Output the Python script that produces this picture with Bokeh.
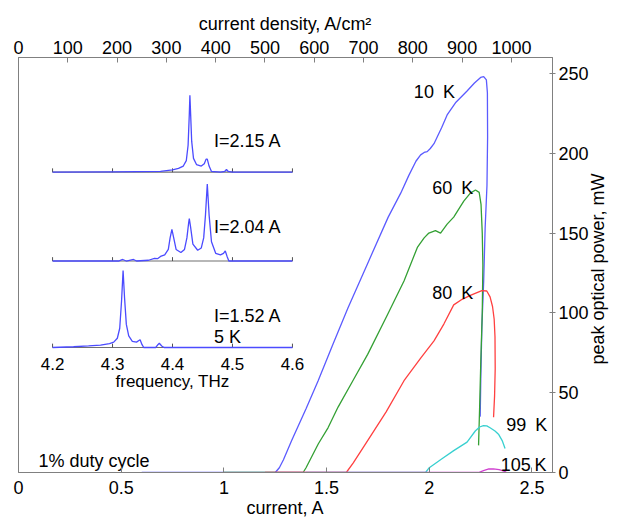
import math
from bokeh.plotting import figure
from bokeh.models import Range1d, LinearAxis, FixedTicker
from bokeh.core.properties import value
from bokeh.embed import file_html
from bokeh.resources import INLINE

# ---------------- data ----------------
cur_10K = [0.60, 1.25, 1.27, 1.29, 1.33, 1.40, 1.459, 1.53, 1.604, 1.70, 1.80, 1.861, 1.90, 1.935,
           1.958, 1.975, 1.99, 2.005, 2.023, 2.06, 2.087, 2.13, 2.184, 2.22, 2.25, 2.265, 2.278,
           2.283, 2.284, 2.281, 2.272, 2.265, 2.256, 2.251, 2.248]
pow_10K = [0, 0, 3, 8, 20, 40, 57.5, 80, 103, 131, 160, 175, 186, 195,
           199, 200.5, 201, 203, 206, 216, 224, 232, 239, 244, 247.5, 248, 246,
           238, 210, 180, 153, 120, 91, 60, 35]

cur_60K = [1.00, 1.386, 1.40, 1.42, 1.46, 1.507, 1.556, 1.628, 1.70, 1.797, 1.877, 1.942, 1.975,
           1.998, 2.03, 2.055, 2.087, 2.119, 2.168, 2.20, 2.225, 2.243, 2.252, 2.258, 2.261,
           2.258, 2.251, 2.245, 2.24]
pow_60K = [0, 0, 3, 8, 18, 28, 41, 57.5, 74, 99, 120, 141, 147,
           150, 151.5, 150, 155.6, 160, 170, 175, 177, 175.5, 168, 150, 130,
           100, 70, 40, 17]

cur_80K = [1.20, 1.596, 1.63, 1.70, 1.79, 1.877, 1.96, 2.023, 2.071, 2.119, 2.16, 2.20, 2.256,
           2.28, 2.296, 2.308, 2.316, 2.32, 2.321, 2.318, 2.313]
pow_80K = [0, 0, 6, 20, 38, 57.5, 72, 82.5, 93, 105, 108.5, 111, 114,
           113.7, 110, 104, 96, 85, 65, 48, 34.6]

cur_99K = [1.40, 1.982, 2.00, 2.06, 2.119, 2.184, 2.224, 2.245, 2.264, 2.28, 2.296, 2.32, 2.337,
           2.355, 2.369]
pow_99K = [0, 0, 3, 8.5, 13.7, 19, 26, 28.5, 29.4, 29.2, 28, 26, 24, 20, 15]

cur_105K = [1.25, 2.24, 2.264, 2.29, 2.312, 2.34, 2.36, 2.375]
pow_105K = [0, 0, 1.2, 2.2, 2.3, 1.8, 1.0, 0.3]

curve_labels = ["10\u2002K", "60\u2002K", "80\u2002K", "99\u2002K", "105\u2009K"]

x_ticks = [0, 0.5, 1, 1.5, 2, 2.5]
x_tick_labels = ["0", "0.5", "1", "1.5", "2", "2.5"]
density_ticks = [0, 100, 200, 300, 400, 500, 600, 700, 800, 900, 1000]
power_ticks = [0, 50, 100, 150, 200, 250]
device_area_cm2 = 0.0024

# inset spectra (frequency THz, normalised intensity)
freq_ticks = [4.2, 4.3, 4.4, 4.5, 4.6]
freq_tick_labels = ["4.2", "4.3", "4.4", "4.5", "4.6"]

f_215 = [4.20, 4.30, 4.38, 4.40, 4.41, 4.418, 4.423, 4.426, 4.428, 4.429, 4.430, 4.432, 4.435,
         4.44, 4.448, 4.453, 4.456, 4.458, 4.461, 4.465, 4.48, 4.487, 4.49, 4.493, 4.50, 4.60]
i_215 = [0, 0.005, 0.01, 0.03, 0.05, 0.08, 0.15, 0.35, 0.75, 1.0, 0.8, 0.4, 0.18,
         0.1, 0.08, 0.11, 0.17, 0.17, 0.08, 0.01, 0.0, 0.01, 0.035, 0.01, 0, 0]

f_204 = [4.20, 4.31, 4.317, 4.323, 4.335, 4.34, 4.36, 4.37, 4.375, 4.38, 4.387, 4.393, 4.396,
         4.399, 4.402, 4.406, 4.414, 4.42, 4.424, 4.427, 4.428, 4.430, 4.434, 4.442, 4.448,
         4.452, 4.455, 4.458, 4.461, 4.465, 4.472, 4.48, 4.485, 4.488, 4.491, 4.494, 4.60]
i_204 = [0, 0, 0.02, 0, 0.02, 0, 0.01, 0.035, 0.03, 0.06, 0.08, 0.15, 0.3,
         0.41, 0.3, 0.15, 0.11, 0.15, 0.3, 0.5, 0.55, 0.45, 0.22, 0.14, 0.17,
         0.3, 0.6, 1.0, 0.6, 0.25, 0.1, 0.08, 0.1, 0.13, 0.06, 0, 0]

f_152 = [4.20, 4.235, 4.26, 4.28, 4.295, 4.302, 4.308, 4.312, 4.315, 4.3176, 4.320, 4.323,
         4.327, 4.333, 4.34, 4.344, 4.346, 4.349, 4.352, 4.372, 4.376, 4.378, 4.382, 4.386, 4.60]
i_152 = [0, 0.01, 0.02, 0.03, 0.05, 0.07, 0.12, 0.25, 0.6, 1.0, 0.65, 0.3,
         0.15, 0.08, 0.07, 0.09, 0.1, 0.04, 0, 0, 0.04, 0.055, 0.02, 0, 0]

spectra_labels = ["I=2.15 A", "I=2.04 A", "I=1.52 A"]

# ---------------- figure ----------------
FONT = value("Liberation Sans")
X_MAX, Y_MAX = 2.6, 260
W, H = 620, 520

p = figure(width=W, height=H, x_range=Range1d(0, X_MAX), y_range=Range1d(0, Y_MAX),
           y_axis_location="right", output_backend="svg", toolbar_location=None,
           min_border_left=18, min_border_right=64, min_border_top=57, min_border_bottom=48)
p.grid.visible = False
p.outline_line_color = "#808080"

AX = "#808080"

def style_axis(ax):
    ax.axis_line_color = AX
    ax.major_tick_line_color = AX
    ax.minor_tick_line_color = None
    ax.major_label_text_font = "Liberation Sans"
    ax.major_label_text_font_size = "18px"
    ax.major_label_text_color = "black"
    ax.axis_label_text_font = "Liberation Sans"
    ax.axis_label_text_font_size = "18px"
    ax.axis_label_text_font_style = "normal"
    ax.axis_label_text_color = "black"

xa = p.xaxis[0]
style_axis(xa)
xa.ticker = FixedTicker(ticks=x_ticks)
xa.major_label_overrides = dict(zip(x_ticks, x_tick_labels))
xa.axis_label = "current, A"
xa.major_tick_in = 5
xa.major_tick_out = 0
xa.major_label_standoff = 8
xa.axis_label_standoff = 1

ya = p.yaxis[0]
style_axis(ya)
ya.ticker = FixedTicker(ticks=power_ticks)
# the rotated title is anchored at the bottom of the axis and starts after a blank lead-in,
# so that it sits centred and reads bottom-to-top as in the reference
ya.axis_label = "\u2002" * 12 + "peak optical power, mW"
ya.major_tick_in = 3
ya.major_tick_out = 3
ya.major_label_standoff = 3
ya.axis_label_standoff = 6
try:
    ya.axis_label_orientation = math.pi / 2
    ya.axis_label_align = "start"
except Exception:
    pass

p.extra_x_ranges = {"density": Range1d(0, X_MAX / device_area_cm2)}
ta = LinearAxis(x_range_name="density", ticker=FixedTicker(ticks=density_ticks),
                axis_label="current density, A/cm\u00b2")
style_axis(ta)
ta.major_tick_in = 5
ta.major_tick_out = 0
ta.major_label_standoff = 4
ta.axis_label_standoff = 4
p.add_layout(ta, "above")

# ---------------- main curves ----------------
LW = 1.3
p.line(cur_10K, pow_10K, line_color="#5b5bff", line_width=LW)
p.line(cur_60K, pow_60K, line_color="#34a034", line_width=LW)
p.line(cur_80K, pow_80K, line_color="#ff4040", line_width=LW)
p.line(cur_99K, pow_99K, line_color="#38d0d0", line_width=LW)
p.line(cur_105K, pow_105K, line_color="#d040d0", line_width=LW)

label_x = [1.925, 2.014, 2.014, 2.375, 2.348]
label_y = [238.5, 178, 112.5, 30, 4.8]
p.text(label_x, label_y, text=curve_labels, text_font=FONT, text_font_size="18px",
       text_baseline="middle", text_align="left", text_color="black")
p.text([0.097], [7.5], text=["1% duty cycle"], text_font=FONT, text_font_size="18px",
       text_baseline="middle", text_align="left", text_color="black")

# ---------------- inset ----------------
# inset placement as fractions of the frame
inset_left, inset_right = 0.0638, 0.513      # where 4.2 and 4.6 THz fall
unit_h = 0.1855                              # height of a unit-intensity peak
baselines = [0.7236, 0.5096, 0.3012]         # baseline of each spectrum
f_span = (freq_ticks[-1] - freq_ticks[0]) / (inset_right - inset_left)
f_start = freq_ticks[0] - inset_left * f_span
p.extra_x_ranges["freq"] = Range1d(f_start, f_start + f_span)
for k, b in enumerate(baselines):
    s = -b / unit_h
    p.extra_y_ranges["s%d" % k] = Range1d(s, s + 1 / unit_h)

spectra = [(f_215, i_215), (f_204, i_204), (f_152, i_152)]
label_rows = [0.41, 0.44, 0.41]
for k, (f, inten) in enumerate(spectra):
    yr = "s%d" % k
    p.segment(x0=[freq_ticks[0]], y0=[0], x1=[freq_ticks[-1]], y1=[0], line_color="#707070",
              line_width=1.2, x_range_name="freq", y_range_name=yr)
    p.segment(x0=freq_ticks, y0=[0] * len(freq_ticks), x1=freq_ticks, y1=[0.05] * len(freq_ticks),
              line_color="#505050", line_width=1, x_range_name="freq", y_range_name=yr)
    p.line(f, inten, line_color="#4b4bff", line_width=LW, x_range_name="freq", y_range_name=yr)
    p.text([4.469], [label_rows[k]], text=[spectra_labels[k]], text_font=FONT,
           text_font_size="18px", text_baseline="middle", text_align="left",
           text_color="black", x_range_name="freq", y_range_name=yr)

p.text([4.469], [0.13], text=["5 K"], text_font=FONT, text_font_size="18px",
       text_baseline="middle", text_align="left", text_color="black",
       x_range_name="freq", y_range_name="s2")
p.text(freq_ticks, [-0.21] * len(freq_ticks), text=freq_tick_labels, text_font=FONT,
       text_font_size="17px", text_baseline="middle", text_align="center",
       text_color="black", x_range_name="freq", y_range_name="s2")
p.text([4.4], [-0.44], text=["frequency, THz"], text_font=FONT, text_font_size="17px",
       text_baseline="middle", text_align="center", text_color="black",
       x_range_name="freq", y_range_name="s2")

open("out.html", "w").write(file_html(p, INLINE))
